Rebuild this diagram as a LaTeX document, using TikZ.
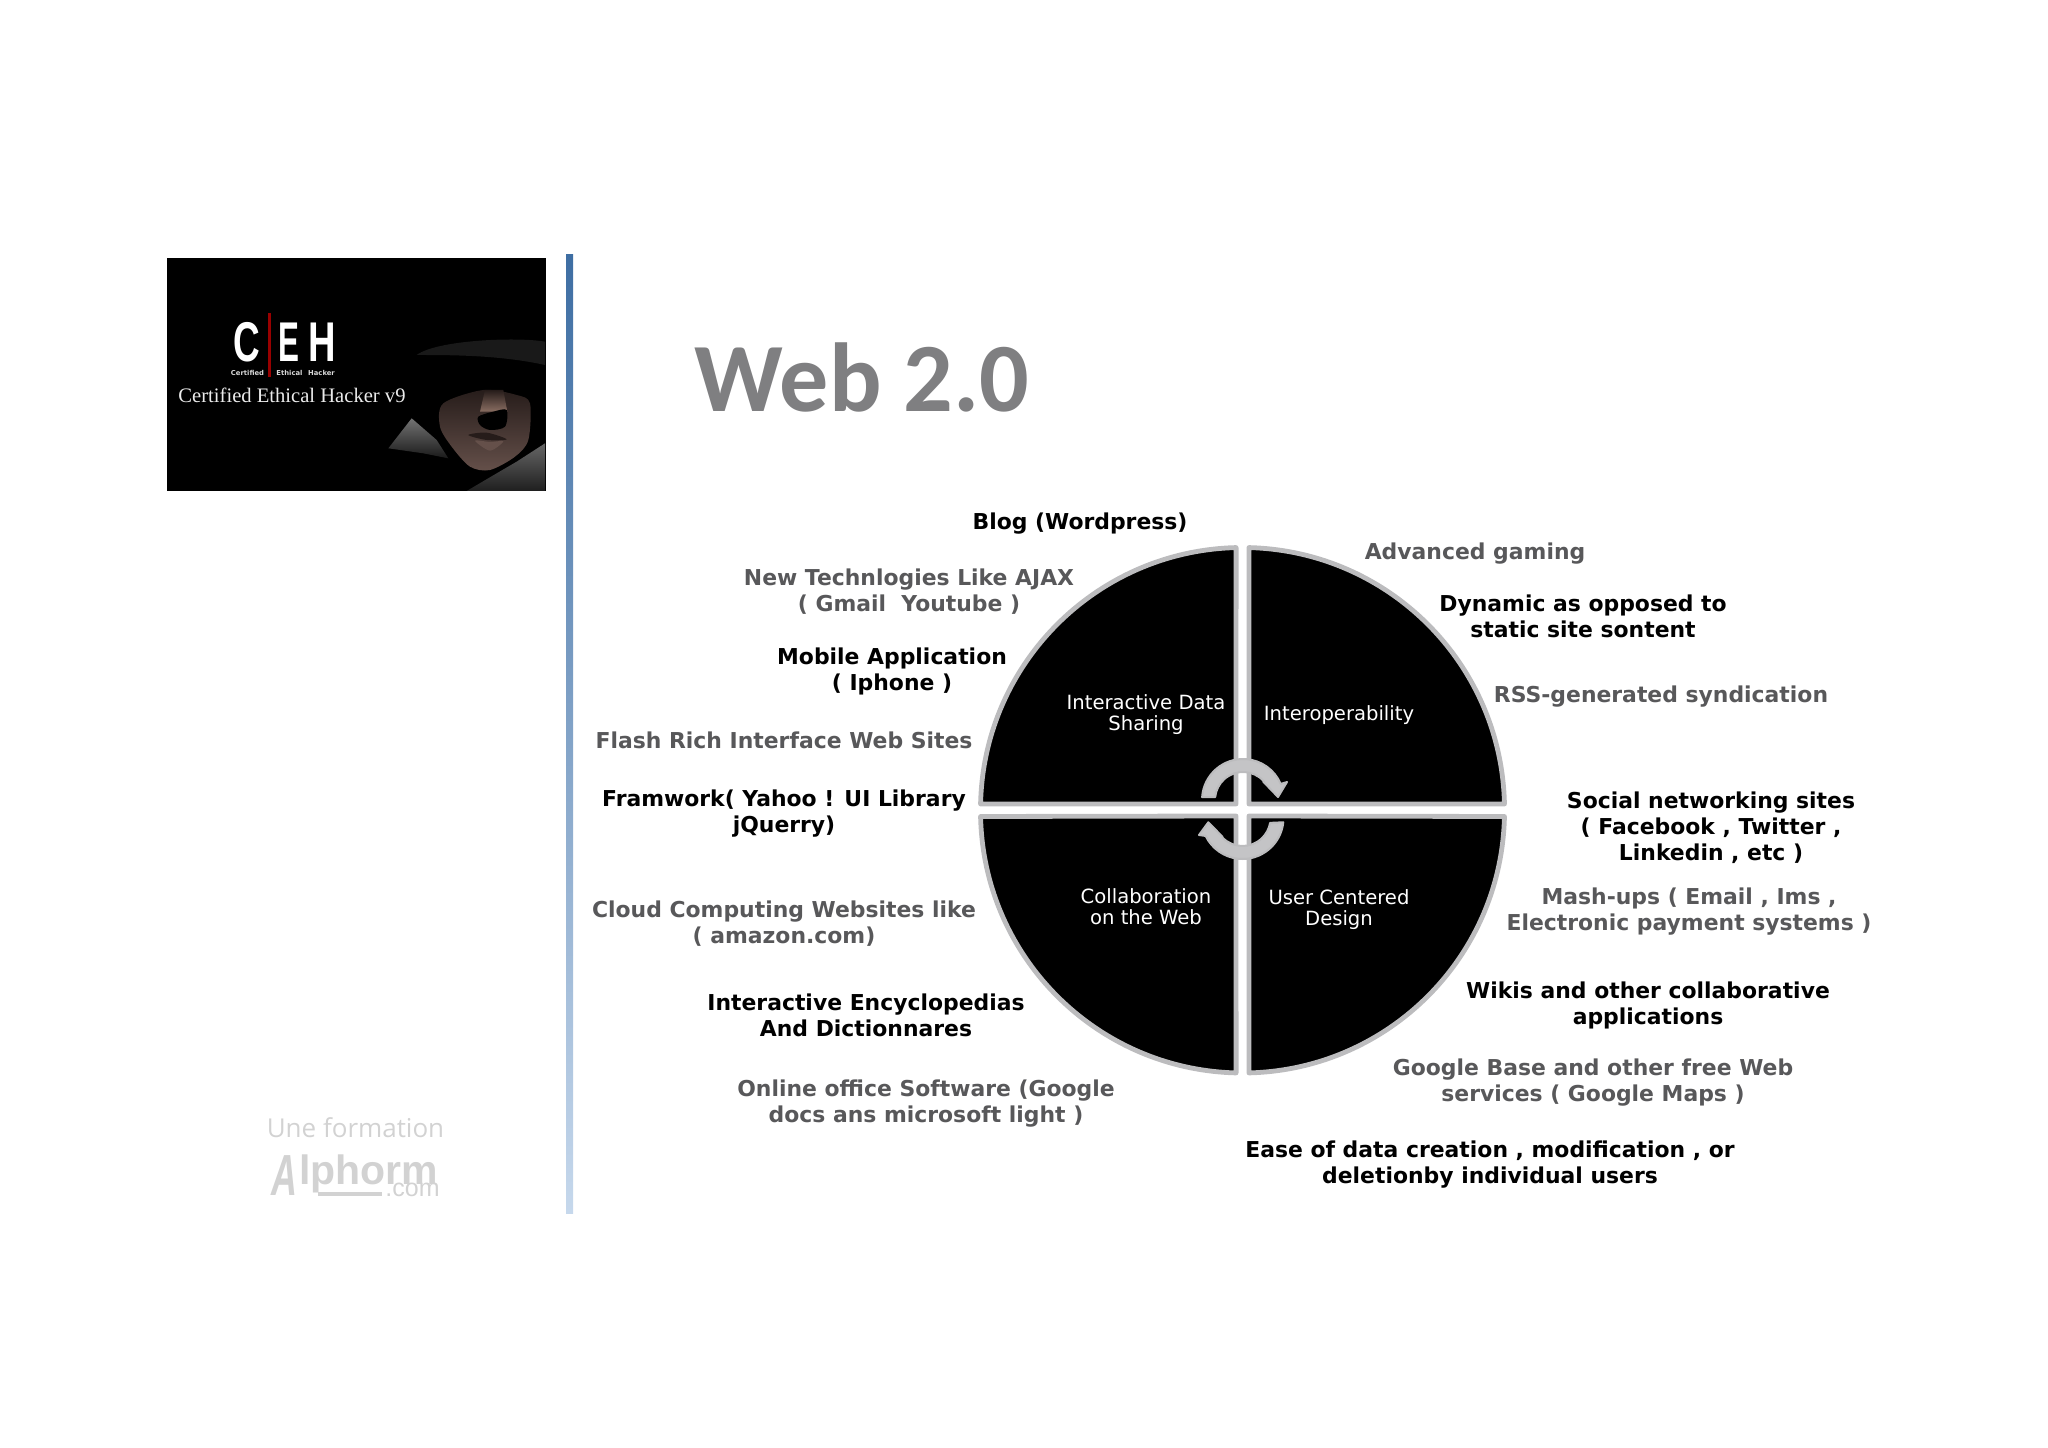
\documentclass[tikz,border=0pt]{standalone}
\usepackage{fontspec}
\setmainfont{DejaVu Sans}
\newfontfamily\titlefont{Carlito}
\newfontfamily\capfont{Liberation Sans}
\newfontfamily\photofont{Liberation Serif}
\newfontfamily\logofont{Open Sans}
\usetikzlibrary{calc,positioning}
\definecolor{labelgray}{HTML}{58585A}
\definecolor{titlegray}{HTML}{7F7F81}
\definecolor{ringgray}{HTML}{BCBCBE}
\definecolor{arrowgray}{HTML}{C4C4C6}
\definecolor{logogray}{HTML}{D2D2D2}
\definecolor{skinlit}{HTML}{8A6E62}
\definecolor{skindark}{HTML}{261C1A}
\definecolor{skinlow}{HTML}{65504A}
\tikzstyle{blacklabel} = [align=center, text=black, font=\fontsize{10.95}{13}\selectfont\bfseries, inner sep=0pt]
\tikzstyle{graylabel} = [blacklabel, text=labelgray]
\tikzstyle{quadtext} = [align=center, text=white, font=\fontsize{9.8}{10.5}\selectfont, inner sep=0pt]
\tikzstyle{quad} = [fill=black, draw=ringgray, line width=2.4pt, line join=round]
\tikzstyle{turn} = [fill=arrowgray, draw=ringgray, line width=1pt, line join=round]
\tikzstyle{bigcap} = [text=white, font=\capfont\fontsize{28}{28}\selectfont\bfseries, inner sep=0pt]
\tikzstyle{tinycap} = [text=white!85!black, font=\fontsize{3.4}{4}\selectfont\bfseries, inner sep=0pt]
\begin{document}
\begin{tikzpicture}[x=0.5pt,y=0.5pt]
\useasboundingbox (0,0) rectangle (2048,1447);
\coordinate (c) at (1242.5,637.5);
\coordinate (d) at (1242.5,636);
% left column
\fill [black] (167,1189) rectangle (546,956);
\shade [top color={rgb,255:red,62;green,110;blue,163}, middle color={rgb,255:red,146;green,178;blue,220}, bottom color={rgb,255:red,198;green,216;blue,236}] (566,1192) rectangle (573,234);
% photo, in pixels of the crop
\begin{scope}[shift={(150,1207)},scale=1/3]
\fill [black!90] (800,-345) .. controls (860,-300) and (1100,-290) .. (1185,-305) -- (1185,-375) .. controls (1050,-345) and (900,-345) .. (800,-345);
\shade [top color=black!60, bottom color=black!88] (1185,-610) -- (1100,-665) -- (1040,-700) -- (950,-753) -- (1185,-753) -- cycle;
\shade [top color=black!55, bottom color=black!90] (715,-625) -- (785,-535) -- (860,-600) -- (895,-655) -- (820,-640) -- cycle;
\shade [top color=skindark, middle color=skinlit, bottom color=skinlow] plot [smooth cycle] coordinates {(880,-490) (1000,-450) (1100,-465) (1140,-490) (1135,-600) (1095,-650) (1020,-690) (960,-680) (905,-620) (870,-560)};
\shade [top color=skindark, bottom color=skinlit] (1005,-450) -- (1060,-450) -- (1072,-515) -- (990,-515) -- cycle;
\fill [black] plot [smooth cycle] coordinates {(985,-530) (1030,-515) (1070,-510) (1065,-560) (1020,-570) (990,-555)};
\fill [skindark] plot [smooth cycle] coordinates {(955,-585) (1010,-578) (1070,-598) (1010,-600)};
\fill [skinlow] plot [smooth cycle] coordinates {(975,-602) (1020,-606) (1060,-604) (1020,-632)};
\end{scope}
\fill [red!60!black] (268,1134) rectangle (271,1070);
\node (letterc) at (246.5,1105) [bigcap, xscale=0.66] {C};
\node (lettere) at (289,1105) [bigcap, xscale=0.56] {E};
\node (letterh) at (322,1105) [bigcap, xscale=0.68] {H};
\node (wordcert) at (247.5,1074) [tinycap] {Certified};
\node (wordeth) at (289.5,1074) [tinycap] {Ethical};
\node (wordhack) at (321.5,1074) [tinycap] {Hacker};
\node (course) at (292,1052) [text=white!92!black, font=\photofont\fontsize{10.3}{12}\selectfont, inner sep=0pt] {Certified Ethical Hacker v9};
\node (une) at (355.5,319) [text=logogray, font=\logofont\fontsize{13}{15}\selectfont, inner sep=0pt] {Une formation};
\node (lettera) at (271,252) [anchor=base west, xscale=0.62, text=logogray, font=\capfont\fontsize{29}{29}\selectfont\bfseries\itshape, inner sep=0pt] {A};
\node (alphorm) at (299,263) [anchor=base west, text=logogray, font=\capfont\fontsize{20.5}{21}\selectfont\bfseries, inner sep=0pt] {lphorm};
\fill [logogray] (318,255) rectangle (382,251);
\node (dotcom) at (385,251) [anchor=base west, text=logogray, font=\capfont\fontsize{12.5}{13}\selectfont, inner sep=0pt] {.com};
\node (title) at (862,1070) [text=titlegray, font=\titlefont\fontsize{49}{49}\selectfont\bfseries, inner sep=0pt] {Web 2.0};
% the four quarters
\draw [quad] (c) ++(178.8:262) arc[start angle=178.8,end angle=91.4,radius=262] -- (1236,643) -- cycle;
\draw [quad] (c) ++(88.6:262) arc[start angle=88.6,end angle=1.2,radius=262] -- (1249,643) -- cycle;
\draw [quad] (d) ++(181.2:262) arc[start angle=181.2,end angle=268.6,radius=262] -- (1236,631) -- cycle;
\draw [quad] (d) ++(-1.2:262) arc[start angle=-1.2,end angle=-88.6,radius=262] -- (1249,631) -- cycle;
% turning arrows
\coordinate (up) at (1243,647);
\coordinate (low) at (1242.5,629);
\draw [turn] (up) ++(176:41) arc[start angle=176,end angle=23,radius=41] -- (1287,665) -- (1278,650) -- (1263.3,665.3) -- ($(up)+(42:28)$) arc[start angle=42,end angle=174,radius=28] -- cycle;
\draw [turn] (low) ++(-6:41) arc[start angle=-6,end angle=-154,radius=41] -- (1199,612) -- (1208.3,624.7) -- (1222.7,610) -- ($(low)+(224:28)$) arc[start angle=224,end angle=350,radius=28] -- cycle;
%
\node (share) at (1146,732) [quadtext] {Interactive Data\\Sharing};
\node (interop) at (1339,732) [quadtext] {Interoperability};
\node (collab) at (1146,540) [quadtext] {Collaboration\\on the Web};
\node (usercd) at (1339,537.5) [quadtext] {User Centered\\Design};
% labels on the left
\node (blog) at (1080,923.5) [blacklabel] {Blog (Wordpress)};
\node (ajax) at (909,855) [graylabel] {New Technlogies Like AJAX\\( Gmail~~Youtube )};
\node (mobile) at (892,775.5) [blacklabel] {Mobile Application\\( Iphone )};
\node (flash) at (784,707) [graylabel] {Flash Rich Interface Web Sites};
\node (framework) at (784,633.5) [blacklabel] {Framwork( Yahoo ! UI Library\\jQuerry)};
\node (cloud) at (784,523) [graylabel] {Cloud Computing Websites like\\( amazon.com)};
\node (encyclo) at (866,432) [blacklabel] {Interactive Encyclopedias\\And Dictionnares};
\node (office) at (926,343.5) [graylabel] {Online office Software (Google\\docs ans microsoft light )};
% labels on the right
\node (ease) at (1490,282.5) [blacklabel] {Ease of data creation , modification , or\\deletionby individual users};
\node (base) at (1593,364.5) [graylabel] {Google Base and other free Web\\services ( Google Maps )};
\node (wikis) at (1648,441.5) [blacklabel] {Wikis and other collaborative\\applications};
\node (mash) at (1689,535.5) [graylabel] {Mash-ups ( Email , Ims ,\\Electronic payment systems )};
\node (social) at (1711,619.5) [blacklabel] {Social networking sites\\( Facebook , Twitter ,\\Linkedin , etc )};
\node (rss) at (1661,750.5) [graylabel] {RSS-generated syndication};
\node (dynamic) at (1583,830.5) [blacklabel] {Dynamic as opposed to\\static site sontent};
\node (gaming) at (1475,893.5) [graylabel] {Advanced gaming};
\end{tikzpicture}
\end{document}
